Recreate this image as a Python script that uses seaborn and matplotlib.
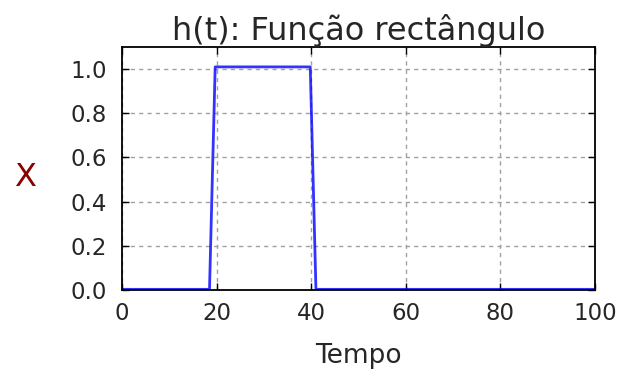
import matplotlib
matplotlib.use("Agg")
import matplotlib.pyplot as plt
import seaborn as sns
import pandas as pd

t = [0, 18.5, 19.7, 39.8, 41, 100]
h = [0.003, 0.003, 1.01, 1.01, 0.003, 0.003]
xticks = [0, 20, 40, 60, 80, 100]
yticks = [0.0, 0.2, 0.4, 0.6, 0.8, 1.0]

sns.set_theme(style="white")
plt.rcParams['font.family'] = ['DejaVu Sans']

df = pd.DataFrame({"Tempo": t, "h": h})
fig = plt.figure(figsize=(6.17, 3.71), dpi=100)
ax = fig.add_axes([122/617, 1 - 290/371, (595-122)/617, (290-47)/371])
sns.lineplot(data=df, x="Tempo", y="h", ax=ax, color="blue", linewidth=2, alpha=0.8)
ax.set_xlim(0, 100)
ax.set_ylim(0, 1.1)
ax.set_xticks(xticks)
ax.set_xticklabels([str(v) for v in xticks])
ax.set_yticks(yticks)
ax.set_yticklabels([f"{v:.1f}" for v in yticks])
ax.grid(True, linestyle=(0, (3, 3)), color="#a0a0a0", linewidth=1)
ax.tick_params(direction="in", length=5, width=1, colors="black", labelsize=16.5,
               top=True, right=True, bottom=True, left=True, labelcolor="#262626")
ax.tick_params(axis="x", pad=8.5)
ax.tick_params(axis="y", pad=11)
for s in ax.spines.values():
    s.set_color("black")
    s.set_linewidth(1.3)
ax.set_title("h(t): Função rectângulo", fontsize=23, color="#262626", pad=5)
ax.set_xlabel("Tempo", fontsize=19, color="#262626", labelpad=13)
ax.set_ylabel("X", rotation=0, color="#8b0000", fontsize=23)
ax.yaxis.set_label_coords(-0.205, 0.40)
fig.savefig("out.png", dpi=100)
